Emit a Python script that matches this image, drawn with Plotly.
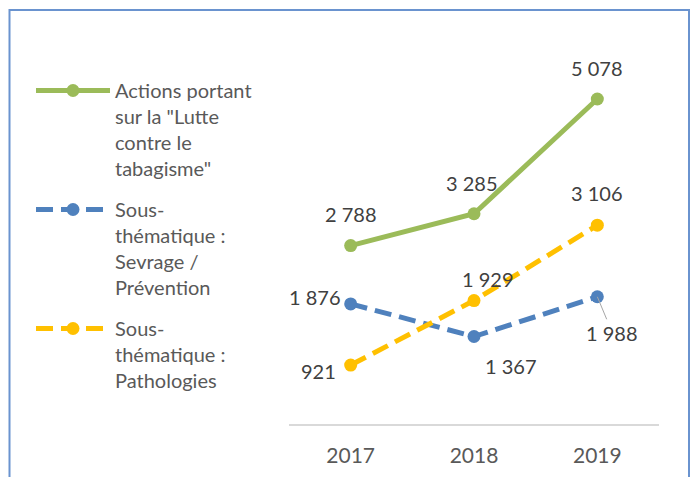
import plotly.graph_objects as go

years = ["2017", "2018", "2019"]
lutte = [2788, 3285, 5078]
sevrage = [1876, 1367, 1988]
patho = [921, 1929, 3106]
names = [
    'Actions portant<br>sur la "Lutte<br>contre le<br>tabagisme"',
    "Sous-<br>thématique :<br>Sevrage /<br>Prévention",
    "Sous-<br>thématique :<br>Pathologies",
]

def fmt(v):
    return f"{v:,}".replace(",", " ")

GREEN = "#9BBB59"
BLUE = "#4F81BD"
YELLOW = "#FFC000"
FONT = "Lato"

fig = go.Figure()
fig.add_trace(go.Scatter(x=years, y=lutte, name=names[0], mode="lines+markers", legendgroup="a",
                         line=dict(color=GREEN, width=5), marker=dict(size=13, color=GREEN)))
fig.add_trace(go.Scatter(x=years, y=sevrage, name=names[1], mode="lines+markers", legendgroup="b",
                         line=dict(color=BLUE, width=5, dash="17px,8px"), marker=dict(size=13, color=BLUE)))
fig.add_trace(go.Scatter(x=years, y=patho, name=names[2], mode="lines+markers", legendgroup="c",
                         line=dict(color=YELLOW, width=5, dash="17px,8px"), marker=dict(size=13, color=YELLOW)))

# data label offsets (pixels) per series/point
offs = {
    0: [(0, 32, "center"), (-2, 31, "center"), (0, 31, "center")],
    1: [(-8, 7, "right"), (37, -29, "center"), (15, -36, "center")],
    2: [(-13, -6, "right"), (14, 22, "center"), (0, 32, "center")],
}
series = [lutte, sevrage, patho]
for si, vals in enumerate(series):
    for pi, v in enumerate(vals):
        dx, dy, anc = offs[si][pi]
        if si == 1 and pi == 2:
            fig.add_annotation(x=pi, y=v, text=fmt(v), showarrow=True,
                               ax=dx, ay=-dy, arrowhead=0, arrowwidth=1, arrowcolor="#A6A6A6",
                               font=dict(family=FONT, size=20, color="#404040"))
        else:
            fig.add_annotation(x=pi, y=v, text=fmt(v), showarrow=False,
                               xshift=dx, yshift=dy, xanchor=anc,
                               font=dict(family=FONT, size=20, color="#404040"))

L, R, T, B = 289, 35, 40, 53
W, H = 694, 477
pw, ph = W - L - R, H - T - B
fig.add_shape(type="rect", xref="paper", yref="paper",
              x0=(9.5 - L) / pw, x1=(689 - L) / pw,
              y0=(H - B - (H + 20)) / ph, y1=(H - B - 10) / ph,
              line=dict(color="#6A93CF", width=2), fillcolor="rgba(0,0,0,0)", layer="below")

fig.update_layout(
    width=W, height=H,
    margin=dict(l=L, r=R, t=T, b=B, autoexpand=False),
    paper_bgcolor="white", plot_bgcolor="white",
    font=dict(family=FONT, color="#595959"),
    xaxis=dict(type="category", range=[-0.5, 2.5], showgrid=False, showline=True,
               linecolor="#D9D9D9", linewidth=1.5, ticks="", zeroline=False, automargin=False,
               tickfont=dict(size=21, color="#595959"), ticklabelstandoff=12),
    yaxis=dict(range=[0, 6000], visible=False, automargin=False),
    legend=dict(xref="container", yref="container", x=31 / W, y=1 - 71 / H,
                xanchor="left", yanchor="top", font=dict(size=20, color="#595959"),
                itemwidth=74, valign="top", tracegroupgap=12, bgcolor="rgba(0,0,0,0)",
                traceorder="grouped", maxheight=420),
    showlegend=True,
)
fig.write_html("out.html", config={"displayModeBar": False},
               post_script="document.body.style.margin='0';")
